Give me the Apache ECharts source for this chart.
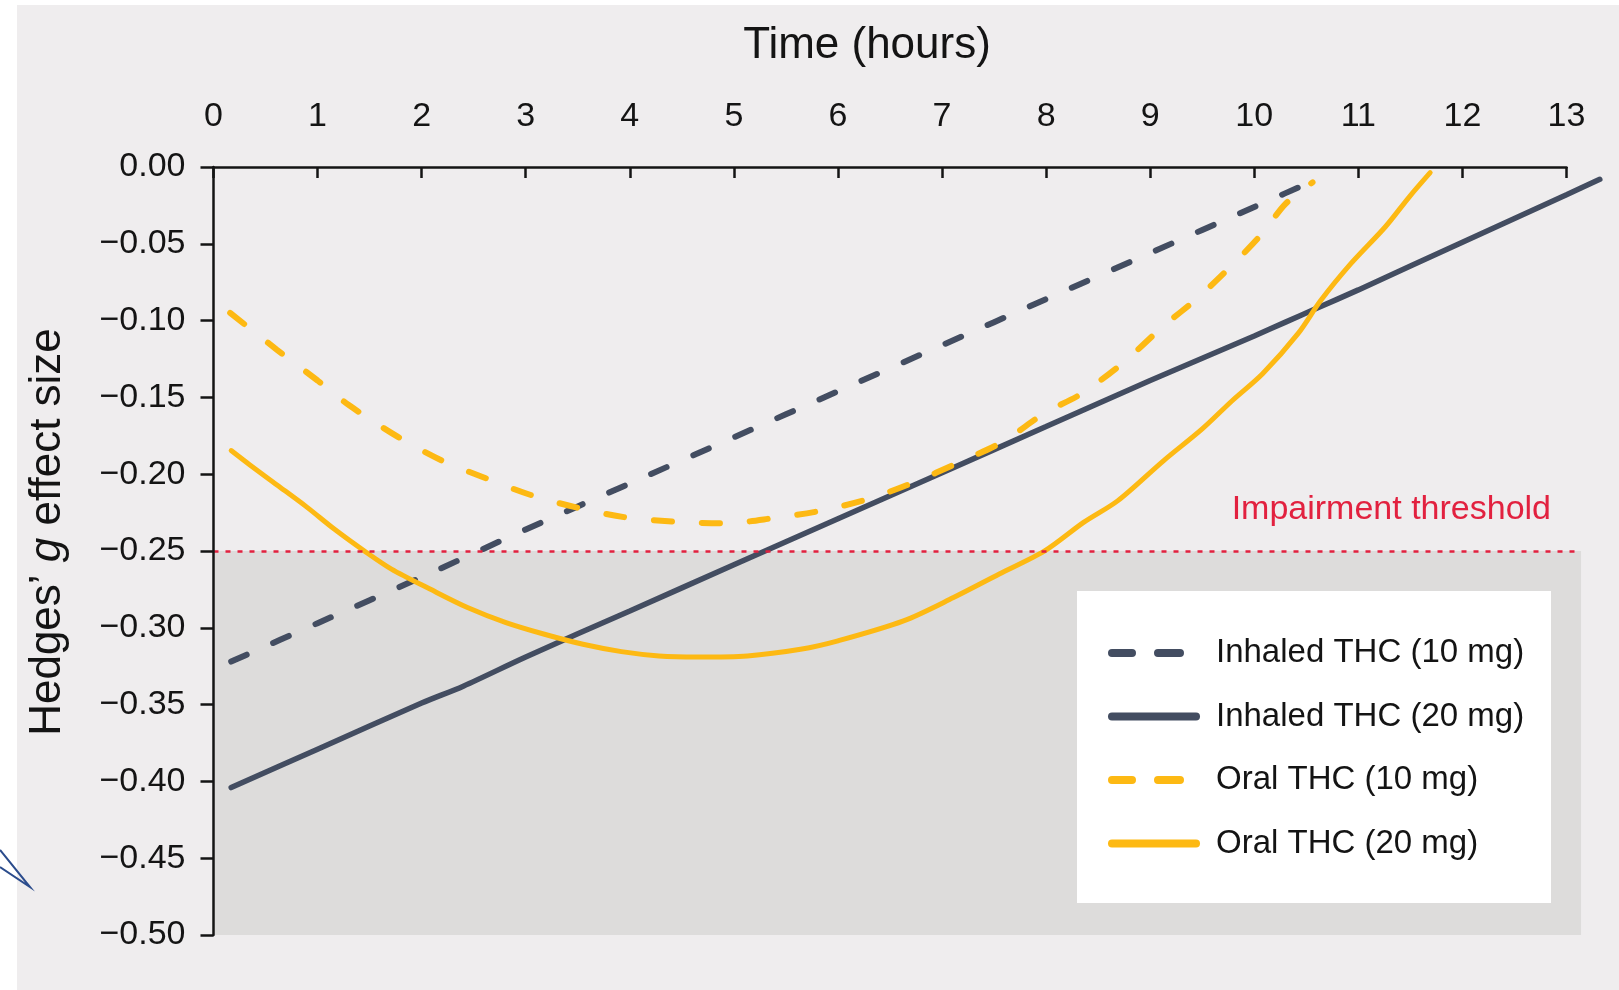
<!DOCTYPE html>
<html>
<head>
<meta charset="utf-8">
<script src="https://cdn.jsdelivr.net/npm/echarts@6/dist/echarts.min.js"></script>
<style>
html,body{margin:0;padding:0;background:#fff;}
#chart{width:1619px;height:990px;}
</style>
</head>
<body>
<div id="chart"></div>
<script>
// ---- data (hours, Hedges' g) ----
const seriesNames = ['Inhaled THC (10 mg)', 'Inhaled THC (20 mg)', 'Oral THC (10 mg)', 'Oral THC (20 mg)'];
const xTickValues = [0,1,2,3,4,5,6,7,8,9,10,11,12,13];
const yTickValues = [0,-0.05,-0.10,-0.15,-0.20,-0.25,-0.30,-0.35,-0.40,-0.45,-0.50];
const threshold = -0.25;
const thresholdLabel = 'Impairment threshold';

const inhaled10 = [[0.17,-0.322],[1,-0.297],[2,-0.267],[3,-0.236],[4,-0.206],[5,-0.176],[6,-0.146],[7,-0.116],[8,-0.086],[9,-0.056],[10,-0.026],[10.67,-0.006]];
const inhaled20 = [[0.17,-0.404],[1,-0.379],[2,-0.349],[2.4,-0.338],[3,-0.319],[4,-0.289],[5,-0.259],[6,-0.229],[7,-0.199],[8,-0.169],[9,-0.139],[10,-0.110],[10.3,-0.101],[10.6,-0.092],[11,-0.080],[12,-0.049],[13,-0.018],[13.32,-0.008]];
const oral10 = [[0.16,-0.095],[0.61,-0.119],[1.0,-0.139],[1.3,-0.155],[1.78,-0.176],[2.19,-0.191],[2.63,-0.203],[3.07,-0.214],[3.51,-0.222],[3.95,-0.228],[4.45,-0.231],[4.91,-0.232],[5.39,-0.2285],[5.82,-0.224],[6.30,-0.216],[6.74,-0.205],[7.14,-0.193],[7.58,-0.179],[7.99,-0.160],[8.33,-0.148],[8.73,-0.128],[9.12,-0.104],[9.46,-0.085],[9.80,-0.063],[10.08,-0.043],[10.30,-0.024],[10.56,-0.010]];
const oral20 = [[0.17,-0.1846],[0.35,-0.194],[0.61,-0.207],[0.90,-0.2216],[1.16,-0.2357],[1.45,-0.250],[1.71,-0.2618],[2.08,-0.2748],[2.44,-0.2868],[2.81,-0.2966],[3.18,-0.3042],[3.55,-0.3107],[3.92,-0.3155],[4.28,-0.3183],[4.65,-0.319],[5.13,-0.3183],[5.64,-0.314],[6.00,-0.3085],[6.63,-0.2955],[7.11,-0.2803],[7.55,-0.265],[7.99,-0.2498],[8.36,-0.2314],[8.69,-0.2172],[9.13,-0.1911],[9.50,-0.1705],[9.79,-0.152],[10.08,-0.1346],[10.42,-0.1085],[10.64,-0.0868],[10.93,-0.0628],[11.26,-0.0389],[11.49,-0.0194],[11.69,-0.0037]];
const shadeXMax = 13.14;

// ---- styling ----
const DARK = '#434d61';
const GOLD = '#fdb913';
const RED = '#e2213f';
const FONT = '"Liberation Sans", Arial, Helvetica, sans-serif';
const TXT = '#141414';

const GL = 213.5, GT = 167, GW = 1353, GH = 768;

const chart = echarts.init(document.getElementById('chart'), null, {renderer: 'canvas'});

const dashIcon = 'path://M4,0H24A4,4,0,0,1,24,8H4A4,4,0,0,1,4,0Z M50,0H72A4,4,0,0,1,72,8H50A4,4,0,0,1,50,0Z M91.95,3.95H92V4.05H91.95Z';
const solidIcon = 'path://M4,0H88A4,4,0,0,1,88,8H4A4,4,0,0,1,4,0Z';

function fmtY(v){
  if (Math.abs(v) < 1e-9) return '0.00';
  return '\u2212' + Math.abs(v).toFixed(2);
}

const option = {
  animation: false,
  backgroundColor: '#efedee',
  grid: [
    {left: GL, top: GT, width: GW, height: GH},
    {left: GL, top: GT, width: GW * 13.5 / 13, height: GH}
  ],
  xAxis: [
    {
      type: 'value', gridIndex: 0, position: 'top', min: 0, max: 13, interval: 1,
      axisLine: {show: true, onZero: false, lineStyle: {color: TXT, width: 2.5}},
      axisTick: {show: true, inside: true, length: 11, lineStyle: {color: TXT, width: 2.5}},
      axisLabel: {show: true, margin: 33, fontSize: 34, fontFamily: FONT, color: TXT,
        customValues: xTickValues, formatter: v => String(v)},
      splitLine: {show: false},
      z: 5
    },
    {type: 'value', gridIndex: 1, min: 0, max: 13.5, show: false}
  ],
  yAxis: [
    {
      type: 'value', gridIndex: 0, min: -0.5, max: 0, interval: 0.05,
      axisLine: {show: true, onZero: false, lineStyle: {color: TXT, width: 2.5}},
      axisTick: {show: true, inside: false, length: 13, lineStyle: {color: TXT, width: 2.5}},
      axisLabel: {show: true, margin: 28, fontSize: 34, fontFamily: FONT, color: TXT,
        customValues: yTickValues, formatter: fmtY},
      splitLine: {show: false},
      z: 5
    },
    {type: 'value', gridIndex: 1, min: -0.5, max: 0, show: false}
  ],
  legend: {
    show: true,
    orient: 'vertical',
    left: 1108, top: 636,
    itemWidth: 92, itemHeight: 8, itemGap: 29.5,
    backgroundColor: 'transparent',
    padding: 0,
    textStyle: {fontSize: 33, fontFamily: FONT, color: TXT, lineHeight: 34, padding: [0,0,0,11]},
    data: [
      {name: seriesNames[0], icon: dashIcon},
      {name: seriesNames[1], icon: solidIcon},
      {name: seriesNames[2], icon: dashIcon},
      {name: seriesNames[3], icon: solidIcon}
    ],
    selectedMode: false,
    z: 6
  },
  tooltip: {show: false},
  graphic: [
    {type: 'rect', shape: {x: 0, y: 0, width: 1619, height: 5}, style: {fill: '#ffffff'}, z: 1, silent: true},
    {type: 'rect', shape: {x: 0, y: 0, width: 17, height: 990}, style: {fill: '#ffffff'}, z: 1, silent: true},
    {type: 'polyline', shape: {points: [[0,850],[30,887],[0,867]]}, style: {stroke: '#2b4c8c', lineWidth: 2, fill: null}, z: 2, silent: true},
    {type: 'rect', shape: {x: 1077, y: 591, width: 474, height: 312}, style: {fill: '#ffffff'}, z: 4, silent: true},
    {type: 'text', x: 867, y: 46, style: {text: 'Time (hours)', fontSize: 44, fontFamily: FONT, fill: TXT, align: 'center', verticalAlign: 'middle'}, z: 5, silent: true},
    {type: 'text', x: 48, y: 532, rotation: Math.PI / 2,
      style: {text: '{a|Hedges\u2019 }{b|g}{a| effect size}', align: 'center', verticalAlign: 'middle',
        rich: {a: {fontSize: 44, fontFamily: FONT, fill: TXT, color: TXT},
               b: {fontSize: 44, fontFamily: FONT, fontStyle: 'italic', fill: TXT, color: TXT}}},
      z: 5, silent: true},
    {type: 'text', x: 1551, y: 510, style: {text: thresholdLabel, fontSize: 34, fontFamily: FONT, fill: RED, align: 'right', verticalAlign: 'middle'}, z: 5, silent: true}
  ],
  series: [
    {
      name: seriesNames[0], type: 'line', xAxisIndex: 1, yAxisIndex: 1, data: inhaled10,
      showSymbol: false, symbol: 'none', smooth: 0.3, z: 3,
      itemStyle: {color: DARK},
      lineStyle: {color: DARK, width: 6, type: [17, 29], cap: 'round'},
      markArea: {
        silent: true,
        itemStyle: {color: '#dddcdb'},
        data: [[{coord: [0, threshold]}, {coord: [shadeXMax, -0.5]}]]
      },
      markLine: {
        silent: true, symbol: ['none','none'], label: {show: false},
        lineStyle: {color: RED, width: 2.5, type: [5, 7]},
        data: [[{coord: [0, threshold]}, {coord: [shadeXMax, threshold]}]]
      }
    },
    {
      name: seriesNames[1], type: 'line', xAxisIndex: 1, yAxisIndex: 1, data: inhaled20,
      showSymbol: false, symbol: 'none', smooth: 0.3, z: 3,
      itemStyle: {color: DARK},
      lineStyle: {color: DARK, width: 5.5, cap: 'round'}
    },
    {
      name: seriesNames[2], type: 'line', xAxisIndex: 1, yAxisIndex: 1, data: oral10,
      showSymbol: false, symbol: 'none', smooth: 0.3, z: 3,
      itemStyle: {color: GOLD},
      lineStyle: {color: GOLD, width: 6, type: [18, 30], cap: 'round'}
    },
    {
      name: seriesNames[3], type: 'line', xAxisIndex: 1, yAxisIndex: 1, data: oral20,
      showSymbol: false, symbol: 'none', smooth: 0.3, z: 3,
      itemStyle: {color: GOLD},
      lineStyle: {color: GOLD, width: 5, cap: 'round'}
    }
  ]
};
chart.setOption(option);
</script>
</body>
</html>
